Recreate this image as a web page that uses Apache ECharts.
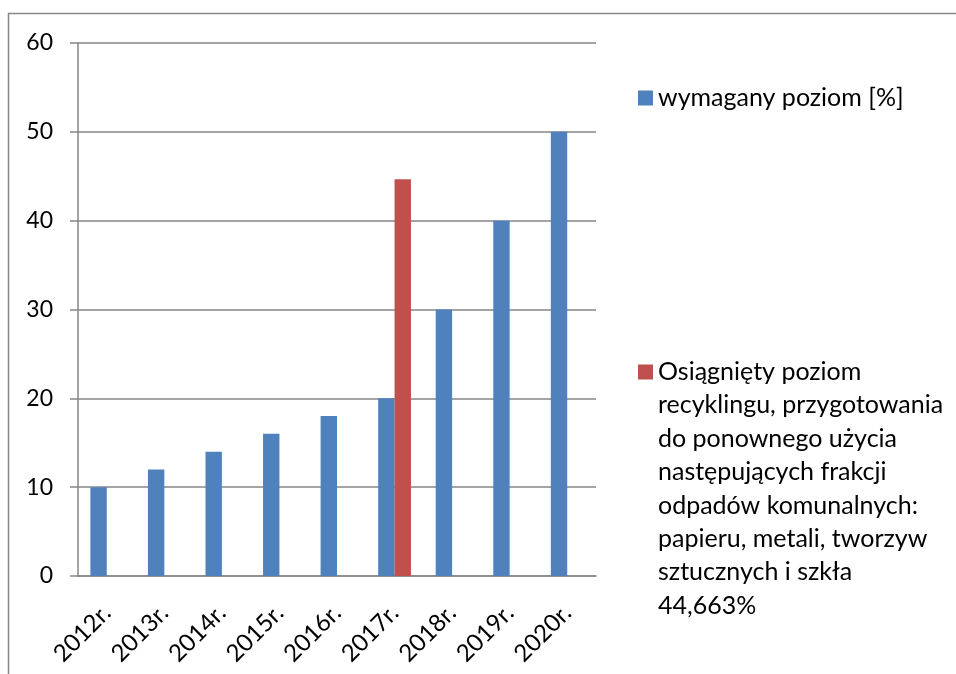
<!DOCTYPE html>
<html>
<head>
<meta charset="utf-8">
<script src="https://cdn.jsdelivr.net/npm/echarts@6/dist/echarts.min.js"></script>
<style>
  html, body { margin: 0; padding: 0; background: #fff; }
  #chart { width: 956px; height: 674px; }
</style>
</head>
<body>
<div id="chart"></div>
<script>
const years = ['2012r.', '2013r.', '2014r.', '2015r.', '2016r.', '2017r.', '2018r.', '2019r.', '2020r.']
const required = [10, 12, 14, 16, 18, 20, 30, 40, 50]
const achieved = [null, null, null, null, null, 44.663, null, null, null]
const requiredName = 'wymagany poziom [%]'
const achievedName = 'Osiągnięty poziom recyklingu, przygotowania do ponownego użycia następujących frakcji odpadów komunalnych: papieru, metali, tworzyw sztucznych i szkła 44,663%'
const achievedLines = [
  'Osiągnięty poziom',
  'recyklingu, przygotowania',
  'do ponownego użycia',
  'następujących frakcji',
  'odpadów komunalnych:',
  'papieru, metali, tworzyw',
  'sztucznych i szkła',
  '44,663%'
]

const font = 'Lato'
const grey = '#868686'
const lh = 33.4
const chart = echarts.init(document.getElementById('chart'))

// legend text is always centred on its icon, so blank lines in front push
// the first real line up to the icon (same as Excel's wrapped legend)
const legendText = () => {
  const pad = new Array(achievedLines.length - 1).fill('')
  return pad.concat(achievedLines).join('\n')
}

chart.setOption({
  backgroundColor: '#fff',
  animation: false,
  textStyle: { fontFamily: font, color: '#000' },
  graphic: [{
    type: 'rect',
    shape: { x: 8.5, y: 13.5, width: 1200, height: 1200 },
    style: { fill: 'none', stroke: grey, lineWidth: 1.5 },
    silent: true
  }],
  grid: { left: 78, right: 360, top: 43, bottom: 98, containLabel: false, outerBoundsMode: 'none' },
  legend: [
    {
      data: [requiredName],
      left: 638,
      top: 98 - lh / 2,
      padding: 0,
      itemWidth: 15,
      itemHeight: 15,
      icon: 'rect',
      textStyle: { fontFamily: font, fontSize: 25, color: '#000', lineHeight: lh }
    },
    {
      data: [achievedName],
      left: 638,
      top: 372 - lh * 7.5,
      padding: 0,
      itemWidth: 15,
      itemHeight: 15,
      icon: 'rect',
      formatter: legendText,
      textStyle: { fontFamily: font, fontSize: 25, color: '#000', lineHeight: lh }
    }
  ],
  xAxis: {
    type: 'category',
    data: years,
    axisLine: { lineStyle: { color: grey, width: 1.5 } },
    axisTick: { length: 8, lineStyle: { color: grey, width: 1.5 } },
    axisLabel: {
      rotate: 45, margin: 33, align: 'right', verticalAlign: 'middle',
      fontFamily: font, fontSize: 24, color: '#000', interval: 0
    }
  },
  yAxis: {
    type: 'value',
    min: 0,
    max: 60,
    interval: 10,
    axisLine: { show: true, lineStyle: { color: grey, width: 1.5 } },
    axisTick: { show: true, length: 8, lineStyle: { color: grey, width: 1.5 } },
    splitLine: { lineStyle: { color: grey, width: 1.5 } },
    axisLabel: { margin: 25, fontFamily: font, fontSize: 23, color: '#000' }
  },
  series: [
    {
      name: requiredName,
      type: 'bar',
      data: required,
      barWidth: 16.4,
      barGap: '0%',
      itemStyle: { color: '#4F81BD' }
    },
    {
      name: achievedName,
      type: 'bar',
      data: achieved,
      barWidth: 16.4,
      itemStyle: { color: '#C0504D' }
    }
  ]
})
</script>
</body>
</html>
